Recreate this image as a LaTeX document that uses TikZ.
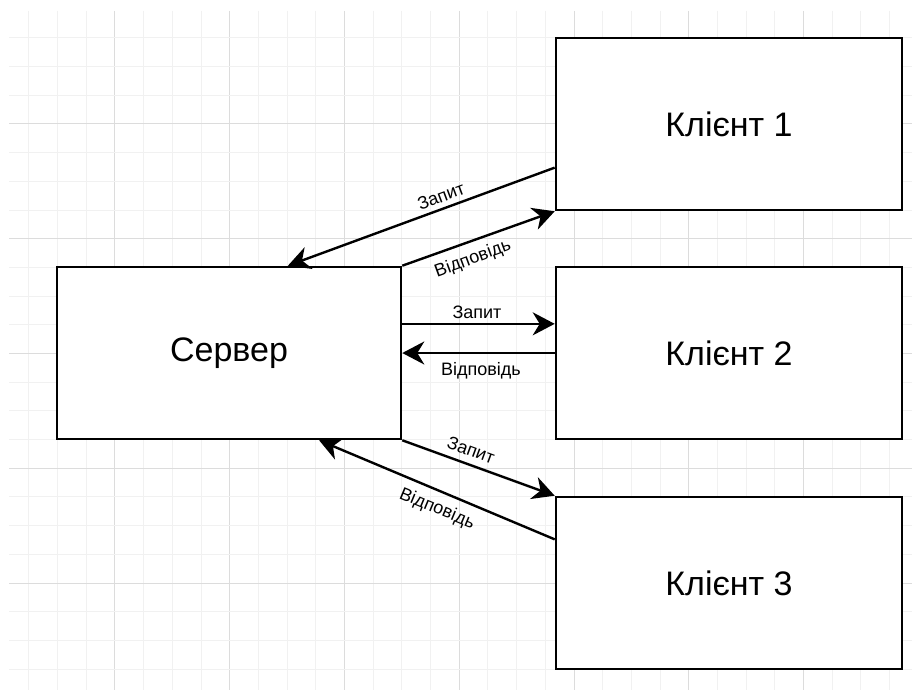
\documentclass[tikz,border=0pt]{standalone}
\usepackage{fontspec}
\setmainfont{Liberation Sans}
\usetikzlibrary{arrows.meta,calc}
\definecolor{gridminor}{HTML}{F1F1F1}
\definecolor{gridmajor}{HTML}{DCDCDC}
\tikzset{
  boxnode/.style={draw=black, line width=2.6pt, fill=white, rectangle, minimum width=344pt, minimum height=172pt, inner sep=0pt, font=\fontsize{34}{40}\selectfont},
  conn/.style={line width=2.4pt, -{Stealth[length=22pt, width=23pt, inset=7pt]}},
  lbl/.style={font=\fontsize{18}{21}\selectfont, inner sep=1pt},
  gminor/.style={draw=gridminor, line width=1pt},
  gmajor/.style={draw=gridmajor, line width=1pt}
}
\begin{document}
\begin{tikzpicture}[x=1pt, y=-1pt]
\useasboundingbox (0,0) rectangle (912,690);
\fill[white] (0,0) rectangle (912,690);
% grid
\foreach \i in {1,...,31} {
  \pgfmathsetmacro\xx{0.2+\i*28.69}
  \pgfmathtruncatemacro\mm{mod(\i,4)}
  \ifnum\mm=0\relax
    \draw[gmajor] (\xx,11) -- (\xx,690);
  \else
    \draw[gminor] (\xx,11) -- (\xx,690);
  \fi
}
\foreach \j in {1,...,23} {
  \pgfmathsetmacro\yy{9.2+\j*28.69}
  \pgfmathtruncatemacro\mm{mod(\j,4)}
  \ifnum\mm=0\relax
    \draw[gmajor] (9,\yy) -- (912,\yy);
  \else
    \draw[gminor] (9,\yy) -- (912,\yy);
  \fi
}
% boxes
\node[boxnode] (s) at (229,353) {Сервер};
\node[boxnode, minimum width=346pt] (c1) at (729,124) {Клієнт 1};
\node[boxnode, minimum width=346pt] (c2) at (729,353) {Клієнт 2};
\node[boxnode, minimum width=346pt] (c3) at (729,583) {Клієнт 3};
% connectors
\draw[conn] ($(c1.north west)!0.75!(c1.south west)$) -- ($(s.north west)!0.67!(s.north east)$);
\draw[conn] (s.north east) -- (c1.south west);
\draw[conn] ($(s.north east)!0.333!(s.south east)$) -- ($(c2.north west)!0.333!(c2.south west)$);
\draw[conn] (c2.west) -- (s.east);
\draw[conn] (s.south east) -- (c3.north west);
\draw[conn] ($(c3.north west)!0.25!(c3.south west)$) -- ($(s.south west)!0.76!(s.south east)$);
% labels
\node[lbl, rotate=20.5] (q1) at (441,196) {Запит};
\node[lbl, rotate=20.2] (r1) at (473,259) {Відповідь};
\node[lbl] (q2) at (477,312) {Запит};
\node[lbl] (r2) at (481,371) {Відповідь};
\node[lbl, rotate=-20.2] (q3) at (471,450) {Запит};
\node[lbl, rotate=-22.6] (r3) at (437,509) {Відповідь};
\end{tikzpicture}
\end{document}
